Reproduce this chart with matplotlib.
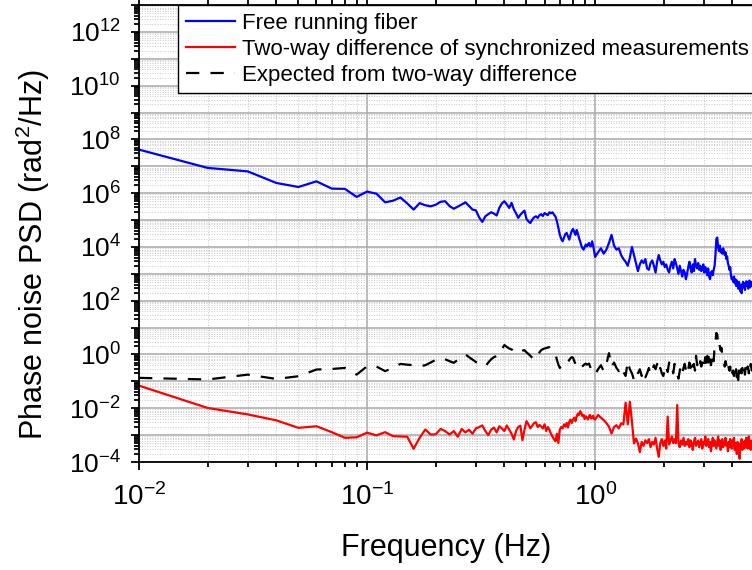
import numpy as np
import matplotlib
matplotlib.use('Agg')
import matplotlib.pyplot as plt
from matplotlib.ticker import FixedLocator, LogLocator, FuncFormatter, NullFormatter

plt.rcParams['font.family'] = ['Liberation Sans', 'DejaVu Sans']
plt.rcParams['mathtext.fontset'] = 'custom'
plt.rcParams['mathtext.rm'] = 'Liberation Sans'
plt.rcParams['mathtext.it'] = 'Liberation Sans:italic'

# frequency grid (Hz): fine below 1 Hz, coarser read-out above
freqLow = np.arange(1, 101) * 0.01
freqHigh = 1.03 + np.arange(131) * 0.03

# log10 of PSD values
blueLow = [7.62, 6.94, 6.81, 6.38, 6.23, 6.44, 6.17, 6.16, 5.86, 6.06,
           5.98, 5.66, 5.72, 5.84, 5.62, 5.39, 5.63, 5.55, 5.51, 5.57,
           5.68, 5.70, 5.52, 5.42, 5.50, 5.58, 5.66, 5.52, 5.39, 5.36,
           5.10, 4.93, 5.14, 5.22, 5.29, 5.24, 5.17, 5.45, 5.62, 5.70,
           5.58, 5.45, 5.64, 5.40, 5.25, 5.08, 5.20, 5.28, 5.35, 5.04,
           4.95, 4.89, 5.02, 5.10, 5.14, 5.08, 5.18, 5.22, 5.15, 5.26,
           5.22, 5.18, 5.29, 5.25, 5.29, 5.20, 5.13, 4.95, 4.71, 4.45,
           4.30, 4.21, 4.35, 4.48, 4.52, 4.40, 4.27, 4.45, 4.60, 4.67,
           4.55, 4.45, 4.63, 4.50, 4.33, 4.20, 4.05, 3.95, 3.90, 4.00,
           4.09, 4.02, 4.09, 4.15, 4.03, 4.03, 4.21, 4.05, 3.85, 3.63]
blueHigh = [3.80, 3.95, 3.75, 3.90, 4.15, 4.45, 4.05, 3.90, 3.95, 3.70,
            3.55, 3.45, 3.30, 3.60, 4.00, 3.70, 3.40, 3.10, 3.35, 3.50,
            3.40, 3.55, 3.20, 3.15, 3.40, 3.50, 3.30, 3.05, 3.45, 3.70,
            3.50, 3.35, 3.45, 3.25, 3.35, 3.15, 3.05, 3.30, 3.45, 3.20,
            3.55, 3.40, 3.20, 3.00, 3.30, 3.10, 2.90, 3.15, 3.05, 2.80,
            3.00, 3.25, 3.45, 3.20, 3.05, 3.35, 3.10, 3.55, 3.30, 3.20,
            3.40, 3.15, 3.30, 3.10, 3.20, 3.35, 3.05, 3.25, 3.15, 2.95,
            3.20, 2.90, 2.80, 3.05, 3.10, 2.95, 3.15, 3.30, 3.70, 4.30,
            4.35, 4.00, 3.85, 4.05, 3.80, 3.90, 3.75, 3.95, 3.85, 3.70,
            3.80, 3.55, 3.65, 3.40, 3.30, 3.15, 3.25, 2.95, 2.80, 2.85,
            2.70, 2.90, 2.65, 2.80, 2.55, 2.75, 2.60, 2.45, 2.70, 2.50,
            2.35, 2.60, 2.28, 2.55, 2.70, 2.50, 2.65, 2.40, 2.60, 2.72,
            2.55, 2.68, 2.45, 2.60, 2.75, 2.50, 2.62, 2.55, 2.70, 2.58,
            2.70]

redLow = [-1.16, -1.99, -2.23, -2.45, -2.73, -2.67, -2.89, -3.10, -3.08, -2.91,
          -3.01, -2.89, -3.04, -3.05, -3.06, -3.51, -3.10, -2.79, -2.98, -2.97,
          -2.77, -2.85, -2.98, -2.85, -3.06, -2.77, -2.90, -2.80, -2.95, -2.75,
          -2.70, -2.64, -2.85, -3.00, -2.80, -2.72, -2.90, -2.67, -2.75, -2.85,
          -2.64, -2.80, -2.95, -3.16, -2.85, -2.70, -2.65, -3.19, -2.80, -2.48,
          -2.60, -2.75, -2.65, -2.55, -2.52, -2.70, -2.62, -2.68, -2.75, -2.60,
          -2.85, -2.70, -2.80, -2.95, -3.05, -3.15, -3.23, -2.95, -3.29, -2.79,
          -2.70, -2.75, -2.60, -2.68, -2.55, -2.72, -2.50, -2.42, -2.55, -2.42,
          -2.35, -2.48, -2.30, -2.20, -2.25, -2.11, -2.18, -2.30, -2.25, -2.40,
          -2.30, -2.35, -2.42, -2.30, -2.25, -2.38, -2.35, -2.28, -2.40, -2.42]
redHigh = [-2.25, -2.35, -2.44, -2.55, -2.69, -2.94, -2.70, -2.63, -2.75, -2.56,
           -2.60, -1.79, -2.60, -1.76, -2.50, -3.31, -3.13, -3.30, -3.63, -3.25,
           -3.40, -3.19, -3.30, -3.15, -3.45, -3.25, -3.35, -3.10, -3.50, -3.81,
           -3.30, -3.15, -3.40, -3.20, -3.50, -2.31, -3.35, -3.20, -3.05, -3.30,
           -3.15, -3.30, -1.88, -3.31, -3.45, -3.20, -3.35, -3.10, -3.40, -3.25,
           -3.35, -3.15, -3.45, -3.20, -3.30, -3.55, -3.25, -3.10, -3.40, -3.30,
           -3.20, -3.45, -3.30, -3.15, -3.50, -3.25, -3.35, -3.05, -3.40, -3.30,
           -3.15, -3.45, -3.25, -3.60, -3.30, -3.10, -3.40, -3.20, -3.35, -3.50,
           -3.25, -3.05, -3.40, -3.20, -3.55, -3.30, -3.15, -3.45, -3.25, -3.35,
           -3.10, -3.40, -3.30, -3.60, -3.25, -3.45, -3.15, -3.35, -3.50, -3.20,
           -3.40, -3.10, -3.55, -3.30, -3.45, -3.70, -3.25, -3.50, -3.35, -3.88,
           -3.30, -3.45, -3.15, -3.55, -3.35, -3.25, -3.50, -3.20, -3.40, -3.10,
           -3.35, -3.50, -3.25, -3.05, -3.45, -3.30, -3.55, -3.20, -3.40, -3.30,
           -3.45]

expLow = [-0.87, -0.93, -0.75, -0.91, -0.81, -0.56, -0.54, -0.50, -0.75, -0.44,
          -0.45, -0.62, -0.50, -0.35, -0.38, -0.40, -0.44, -0.40, -0.30, -0.20,
          -0.13, -0.18, -0.25, -0.31, -0.20, -0.08, 0.00, -0.10, -0.19, -0.28,
          -0.35, -0.40, -0.44, -0.30, -0.18, -0.10, -0.06, -0.03, 0.20, 0.35,
          0.28, 0.22, 0.19, 0.12, 0.08, 0.04, 0.10, 0.14, 0.16, 0.08,
          0.02, -0.05, -0.12, -0.17, -0.19, -0.05, 0.08, 0.16, 0.20, 0.22,
          0.24, 0.26, 0.27, 0.18, 0.10, 0.05, 0.00, -0.20, -0.38, -0.50,
          -0.45, -0.42, -0.44, -0.40, -0.41, -0.30, -0.20, -0.14, -0.10, -0.12,
          -0.25, -0.35, -0.38, -0.45, -0.52, -0.56, -0.48, -0.44, -0.40, -0.36,
          -0.34, -0.38, -0.36, -0.34, -0.45, -0.55, -0.62, -0.68, -0.72, -0.75]
expHigh = [-0.55, -0.40, -0.62, -0.35, 0.05, -0.45, -0.30, -0.50, -0.62, -0.45,
           -0.65, -0.80, -0.25, -0.55, -0.70, -0.95, -1.00, -0.70, -0.55, -0.80,
           -0.60, -0.85, -0.70, -0.50, -0.75, -0.60, -0.40, -0.55, -0.35, -0.65,
           -0.50, -0.70, -0.80, -0.55, -0.40, -0.65, -0.30, -0.50, -0.45, -0.70,
           -0.35, -0.55, -0.75, -0.90, -0.60, -0.45, -0.70, -0.50, -0.35, -0.60,
           -0.40, -0.55, -0.30, -0.50, -0.20, -0.45, -0.35, -0.60, -0.05, -0.40,
           -0.30, -0.50, -0.25, -0.45, -0.30, -0.55, -0.35, -0.10, -0.40, -0.05,
           -0.30, 0.10, -0.20, -0.40, -0.15, 0.05, -0.25, 0.30, 0.45, 0.80,
           0.75, 0.45, 0.55, 0.30, 0.15, 0.25, 0.00, -0.20, -0.30, -0.45,
           -0.25, -0.40, -0.55, -0.35, -0.50, -0.60, -0.45, -0.75, -0.55, -0.70,
           -0.60, -0.80, -0.50, -0.70, -0.55, -0.85, -0.65, -0.95, -0.60, -0.75,
           -0.90, -0.55, -0.70, -0.50, -0.65, -0.45, -0.60, -0.75, -0.40, -0.55,
           -0.65, -0.45, -0.50, -0.70, -0.40, -0.55, -0.35, -0.50, -0.60, -0.40,
           -0.45]

freq = np.concatenate([freqLow, freqHigh])
bluePSD = 10**np.array(blueLow + blueHigh)
redPSD = 10**np.array(redLow + redHigh)
expPSD = 10**np.array(expLow + expHigh)

fig = plt.figure(figsize=(7.52, 5.70), dpi=100)
# axes runs past the right edge of the picture, like the cropped original
ax = fig.add_axes([139/752, 108/570, 625/752, 457/570])

ax.plot(freq, bluePSD, color='blue', lw=1.6, label='Free running fiber')
ax.plot(freq, redPSD, color='red', lw=1.6, label='Two-way difference of synchronized measurements')
ax.plot(freq, expPSD, color='black', lw=1.6, linestyle=(0, (6, 5)), label='Expected from two-way difference')

ax.set_xscale('log')
ax.set_yscale('log')
ax.set_xlim(0.01, 5.5)
ax.set_ylim(1e-4, 1e13)

def yfmt(v, pos):
    e = int(round(np.log10(v)))
    if e % 2 == 0:
        return r'$\mathregular{10^{%d}}$' % e
    return ''

def xfmt(v, pos):
    e = int(round(np.log10(v)))
    return r'$\mathregular{10^{%d}}$' % e

ax.yaxis.set_major_locator(FixedLocator(10.0**np.arange(-4, 14)))
ax.yaxis.set_major_formatter(FuncFormatter(yfmt))
ax.yaxis.set_minor_locator(LogLocator(base=10, subs=np.arange(2, 10), numticks=100))
ax.yaxis.set_minor_formatter(NullFormatter())
ax.xaxis.set_major_locator(FixedLocator([0.01, 0.1, 1.0]))
ax.xaxis.set_major_formatter(FuncFormatter(xfmt))
ax.xaxis.set_minor_locator(LogLocator(base=10, subs=np.arange(2, 10), numticks=100))
ax.xaxis.set_minor_formatter(NullFormatter())

ax.grid(which='major', color='#a8a8a8', lw=1.1, ls='-')
ax.grid(which='minor', color='#c8c8c8', lw=0.7, ls=':')
ax.set_axisbelow(True)

ax.tick_params(which='both', direction='out', top=True, right=False, width=1.3, colors='black')
ax.tick_params(which='major', length=6)
ax.tick_params(which='minor', length=3.5)
ax.tick_params(axis='y', which='major', labelsize=19, pad=7)
ax.tick_params(axis='x', which='major', labelsize=20, pad=9)
for s in ax.spines.values():
    s.set_linewidth(1.3)

fig.text(33/752, 1 - 255/570, r'Phase noise PSD (rad$\mathregular{^2}$/Hz)',
         rotation=90, ha='center', va='center', fontsize=22)
fig.text(446/752, 1 - 548/570, 'Frequency (Hz)', ha='center', va='center', fontsize=22)

leg = ax.legend(loc='upper left', bbox_to_anchor=(178/752, 565/570), bbox_transform=fig.transFigure,
                fontsize=16, fancybox=False, framealpha=1, edgecolor='black', borderaxespad=0,
                borderpad=0.35, labelspacing=0.22, handlelength=2.2, handletextpad=0.35)
leg.get_frame().set_linewidth(1.0)

fig.savefig('out.png', dpi=100)
